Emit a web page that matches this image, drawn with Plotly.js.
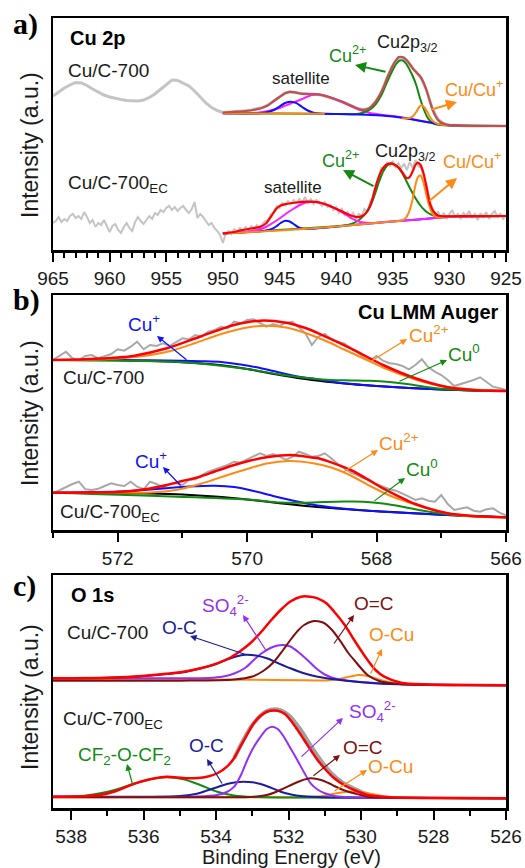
<!DOCTYPE html>
<html><head><meta charset="utf-8">
<script src="https://cdn.plot.ly/plotly-3.0.1.min.js"></script>
<style>html,body{margin:0;padding:0;background:#fff}#chart{width:525px;height:868px}</style>
</head><body><div id="chart"></div>
<script>
// ---------------- Panel a: Cu 2p (intensity in arbitrary units) ----------------
const a1_raw = [154,158,162,165,167.5,167,164.5,161,158,155,153,151.5,150.5,149.5,149.5,149,150,152.5,156,161,166,170,169.5,167,164,159,153,147,142.5,139.5,137.5,
137.8,138.3,138.6,139.2,140,141,142.6,145,149.2,153.2,157,158.2,157.3,156.3,156.2,155.8,155.3,154,152.3,150.3,148.3,146,143.2,141.2,140.2,142,148.2,158.3,172.5,184.5,192.5,192.3,185.5,178.5,172,159.5,141,130.5,126.5,125,124.6,124.4,124.1,124.3,124,124.2,123.9,124.1,123.8,124];
const a1_env_E = [950,949,948,947.3,946.5,946,945.5,945,944.5,944.1,943.6,943.1,942.5,941.8,941,940.3,939.5,938.8,938.2,937.7,937.3,936.9,936.5,936.1,935.8,935.5,935.1,934.8,934.45,934.1,933.8,933.5,933.2,932.9,932.6,932.3,932.0,931.7,931.4,931.1,930.8,930.3,929.7,928,925];
const a1_env_I = [137.5,138.2,139,140,142.3,144.8,149,153,156.8,158.2,157.6,156.3,156,155.8,154.2,151.8,148.5,145,141.8,140.2,140.6,143.5,148.5,156,163,172,182,188.5,193,192.7,190.2,186,181,177.5,174,168,159,148,138,131.5,128,125.5,124.5,124.2,124];
const a1_blue_E = [950,948,947,946.5,946,945.5,945,944.5,944,943.5,943,942.5,942,941,940,938,936,935,934,933,932,931,930,929,927,925];
const a1_blue_I = [136.7,136.6,136.6,137,138,140,143.5,147,148.3,146.8,143,139.5,137.3,136.3,136,135.5,134.5,133.5,132,130,128,126,124.8,124.2,124,124];
const a1_mag_E = [950,948,947,946,945,944,943,942.5,942,941.5,941,940.3,939.5,938.8,938,937.5,937,936,935,934,933,932,931,930,929,925];
const a1_mag_I = [136.7,136.8,137.3,139,142,146.5,151,153.5,155.2,155.5,154.3,151.7,148,144.5,140.5,138.5,137,135.2,134,132.3,130.2,128,126,124.8,124.2,124];
const a1_green_E = [950,945,940,938.5,938,937.5,937,936.5,936,935.5,935,934.7,934.4,934.1,933.8,933.5,933.2,932.9,932.6,932.3,932,931.7,931.4,931,930.5,930,929,925];
const a1_green_I = [136.7,136.5,136,135.8,136.3,137.8,140.5,146,155,168,180,186,189.5,189.5,186,180,173,164,152,142,134,129,126.5,125.2,124.7,124.5,124.2,124];
const a1_orange_E = [950,947,944,941,940.9,934.2,933.8,933.5,933.2,932.9,932.7,932.45,932.2,931.9,931.6,931.3,931,930.5,930,929,925];
const a1_orange_I = [136.7,136.6,136.5,136.2,null,131.8,131.5,132,134,138.5,142.5,145,142.5,137,131,127.5,126,125,124.8,124.2,124];

const a2_raw = [27,29,33,28,31,29,34,36,32,34,31,38,33,27,30,23,27,25,30,24,18,24,26,20,17,23,27,22,19,28,33,29,26,30,34,31,37,35,40,38,
42,44,40,43,39,42,44,40,37,41,48,32,36,33,29,25,27,22,19,15,7,17,19,16,21,18,22,19,23,20,24,21,25,22,26,29,30,36,37,44,
42,47,45,49,46,50,47,51,47,53,47,51,46,50,47,44,48,43,45,40,43,37,41,35,38,33,37,31,36,34,41,38,48,52,66,70,82,80,88,84,
89,83,87,82,86,80,88,82,90,84,82,72,64,50,43,34,38,32,37,31,36,40,33,36,31,37,34,39,32,36,30,37,33,38,31,36,39,33,36,31,35];
const a2_env_E = [950,949,948.5,947.5,946.7,946.2,945.9,945.6,945.3,944.9,944.4,943.5,942.6,941.4,940.3,939.6,939.1,938.5,938.1,937.6,937.2,936.9,936.6,936.3,936.0,935.6,935.2,934.8,934.4,934.0,933.75,933.5,933.25,933.0,932.8,932.55,932.3,932.0,931.7,931.4,931.0,930.5,929,925];
const a2_env_I = [16.7,18,19.5,21.5,23.3,26.5,31,36,41,44.5,46,47.5,48.3,47.3,42.7,39.3,36.5,33.8,32.8,34.5,39.5,47.5,59.5,71,79.5,85,86.7,85,81.5,75,71.8,73,78.5,85,87.3,85,77.5,62,46,38.5,34.5,33.7,33.9,34];
const a2_green_E = [950,947,944,941,939,938.6,938.2,937.8,937.4,937,936.6,936.2,935.8,935.4,935.0,934.6,934.2,933.8,933.4,933.0,932.6,932.2,931.8,931.4,931.0,930.5,930,927,925];
const a2_green_I = [16.5,18.5,20.8,23,25,26.3,28.5,31.8,36.5,43.5,55,68.5,79.5,85.3,86.3,83.5,77.5,69,60,52,45,40,36.5,34.5,33.5,33.3,33.5,33.8,34];
const a2_blue_E = [950,948,947,946.3,945.8,945.3,944.9,944.5,944.1,943.7,943.3,942.8,942,940,938,936,934,932,930,925];
const a2_blue_I = [16.5,17.8,18.5,19.3,20.5,23.5,27,29.3,28.5,25.5,22.5,21,21.3,23.3,25.5,27.6,29.5,31.2,33.2,34];
const a2_mag_E = [950,948.5,947.5,946.8,946.2,945.6,945,944.4,943.8,943.2,942.6,942,941.4,940.8,940.3,939.7,939.1,938.6,938.1,937.6,937,936,934,932,930,927,925];
const a2_mag_I = [16.5,17.7,19,20.5,23,27,31.5,36.5,41,45,47.8,48.3,47.3,45.3,42.7,39.2,35.2,31.5,28.8,27.4,27,27.7,29.5,31.2,33.2,33.8,34];
const a2_orange_E = [950,945,940,936,934.2,933.9,933.6,933.3,933.05,932.8,932.55,932.3,932.05,931.8,931.55,931.3,931.0,930.5,930,925];
const a2_orange_I = [16.5,19.5,23.5,27.6,29.5,31.5,37,48,62,72.5,74.5,68,56,45,37.5,34,32.7,33.2,33.5,34];

// ---------------- Panel b: Cu LMM Auger ----------------
const b1_raw = [170,174,178.3,171.7,170,174,175,171.7,174,176,180.7,179.3,183.3,188.3,180.7,185,184,186.7,184,188.3,
191.7,190.7,195,193.3,198.3,200,203.3,201.7,208.3,206.7,210,210.7,207.3,203.3,206,204,207.3,208.3,202.7,196.7,
185,193.3,196,190.7,188.3,186.7,181.7,178.3,172.7,170,174,169.3,166.7,166,164,160.7,165,170.7,162.7,158.3,
155,150,144,146,147.3,150,152.7,148.3,143.3,141.7,140];
const b1_black_E = [573,572,571.5,571,570.5,570,569.5,569,568.5,568,567.5,567,566.5,566];
const b1_black_I = [170,169.7,169,167.8,165.5,161,155,150,146.5,144,142,140.5,139.5,139];
const b1_blue_E = [573,572,571.5,571,570.7,570.4,570.1,569.8,569.5,569.2,568.9,568.5,568,567,566];
const b1_blue_I = [170,169.9,169.7,169.3,168.8,168,165.5,162,157.5,153.3,150.5,146.7,144,140.5,139];
const b1_orange_E = [573,572.5,572,571.6,571.2,570.8,570.4,570.0,569.7,569.4,569.1,568.8,568.5,568.2,567.9,567.6,567.3,567.0,566.6,566];
const b1_orange_I = [170,170.3,171.5,174,178.8,187,196,202.5,204.3,202.5,197,189.5,180.5,171.5,162.5,155,148.5,144,141,139];
const b1_green_E = [573,571,570,569.5,569,568.7,568.4,568.1,567.8,567.5,567.2,566.9,566.5,566];
const b1_green_I = [170,167.8,161,155.5,151.5,150,149.6,149.2,148,145.8,142.8,140.8,139.6,139];
const b1_env_E = [573,572.5,572,571.76,571.24,570.73,570.2,569.8,569.4,569.1,568.9,568.4,567.9,567.4,566.9,566.5,566];
const b1_env_I = [170,170.8,172.5,174,181.7,193.3,205,209.3,207.3,202,196.7,181.7,165,151.7,142.7,140,139];

const b2_raw = [36.7,40,42.7,46,48.3,40.7,40,41.3,44,46.7,45,44,48.3,43.3,40.7,48.3,46,42.7,46,46.7,
45,50,50.7,55,58.3,60.7,63.3,65,68.3,67.3,70.7,73.3,76.7,74,76,73.3,70,73.3,78.3,76,
73.3,74,76.7,71.7,66,61.7,57.3,55,51.7,50,46,43.3,40.7,39.3,36.7,33.3,30,31.7,29.3,28.3,
35,26,20,21.3,22.7,19.3,18.3,20.7,21.7,17.3,14.7];
const b2_black_E = [573,572,571.5,571,570.5,570,569.5,569,568.5,568,567.5,567,566.5,566];
const b2_black_I = [37.3,37,36.5,35.5,33.5,30.5,26.8,23.5,21,18.8,17,15.3,13.8,12.7];
const b2_blue_E = [573,572.5,572,571.7,571.3,570.9,570.5,570.2,569.9,569.6,569.3,569.0,568.6,568,567,566];
const b2_blue_I = [37.3,37.8,38.5,39.6,41.5,43.5,44.3,43,39,34,29.5,25.5,22,18.8,15.3,12.7];
const b2_orange_E = [573,572,571.5,571.1,570.7,570.3,570.0,569.7,569.35,569.0,568.7,568.4,568.1,567.8,567.5,567.2,566.9,566.5,566];
const b2_orange_I = [37.3,37.3,37.5,40,46.5,55,61,66.5,69,67,62.5,54.5,44,34.5,27.5,21.5,16.5,13.5,12.7];
const b2_green_E = [573,570,569.5,569.1,568.8,568.5,568.2,567.9,567.6,567.3,567.0,566.7,566.3,566];
const b2_green_I = [37.3,30.5,27.5,27.3,28,28.4,28.3,26.5,23.3,19.5,16.5,14.5,13.3,12.7];
const b2_env_E = [573,572,571.76,571.5,571.24,571.0,570.73,570.5,570.2,569.95,569.7,569.33,569.0,568.9,568.4,567.9,567.4,566.9,566.5,566];
const b2_env_I = [37.3,38,39.3,41.5,45,49,53.3,58.5,65,69.5,72.7,75,72.5,71.7,60,41.7,26,16.7,14,12.7];

// ---------------- Panel c: O 1s ----------------
const c1_env_E = [538.5,537,536.3,535.5,534.9,534.4,533.97,533.6,533.33,533.05,532.77,532.5,532.22,531.95,531.66,531.4,531.2,530.95,530.74,530.45,530.19,529.82,529.6,529.36,528.9,528.2,527,526];
const c1_env_I = [129.7,130.3,131.3,133.8,136.3,140,144.7,150.5,157,165,175.5,187,198,206.5,211.3,211.3,209.7,204.5,196.3,183,168,148,138,131.3,125.3,123.5,123,122.7];
const c1_oc_E = [538.5,537,536.3,535.8,535.36,534.9,534.44,534.0,533.7,533.45,533.2,532.9,532.6,532.3,531.95,531.6,531.2,530.7,530.2,529.5,528.5,526];
const c1_oc_I = [129.7,130.2,131.2,132.5,134,135.8,139.5,144,148.5,151.5,153.2,152.5,149.7,145,139.7,135,131.3,128.5,126.5,124.5,123.5,122.7];
const c1_so4_E = [538.5,535,534.2,533.8,533.5,533.2,532.96,532.75,532.5,532.3,532.15,531.95,531.75,531.48,531.25,531.0,530.74,530.4,530,529,526];
const c1_so4_I = [129.7,129.7,130,131.5,134.5,140,148,154.5,160,162.5,163,161.5,156.5,148,140,133.5,129.7,127.5,126,124,122.7];
const c1_oeqc_E = [538.5,535,533.5,533.0,532.7,532.4,532.15,531.95,531.75,531.57,531.3,531.05,530.8,530.56,530.35,530.19,529.82,529.5,529.1,528.5,526];
const c1_oeqc_I = [127.3,127.3,128.5,131.5,137,146.3,158,168,177,183,187,185.5,178,166.3,155,148,133,127,124.5,123.3,122.7];
const c1_ocu_E = [538.5,536,533,531.5,531,530.6,530.3,530.05,529.8,529.5,529.2,528.8,528,526];
const c1_ocu_I = [129,128.7,128.2,127.8,127.5,129,131.5,133,131.8,128.5,125.5,124,123.2,122.7];

const c2_raw_E = [533.5,533,532.6,532.3,532.0,531.7,531.4,531.1,530.8,530.5,530.2,529.9,529.5];
const c2_raw_I = [50,83,97,98.5,93,80,63,47,34,25,19.5,14.5,11.5];
const c2_env_E = [538.5,537.7,537.2,536.8,536.28,535.82,535.36,534.8,534.25,533.95,533.7,533.5,533.33,533.15,532.96,532.78,532.6,532.31,532.1,531.95,531.76,531.57,531.38,531.2,530.97,530.74,530.45,530.19,529.82,529.3,528.5,526];
const c2_env_I = [11.3,11.8,13,16.5,24,28.7,31.3,29.7,31.3,35,41.3,50,61.3,73,84.7,92,96.3,97.3,94,88,78.5,68,57.5,48,38,29.7,22.5,18,13,11,10.2,9.7];
const c2_cf2_E = [538.5,537.7,537.2,536.8,536.28,535.82,535.36,534.9,534.44,533.97,533.5,533,532,526];
const c2_cf2_I = [11.3,11.9,14.7,18,24,28.7,30.7,28.7,23,16.3,12.5,11,10.5,9.7];
const c2_oc_E = [538.5,536,535,534.5,534.25,533.95,533.7,533.45,533.24,533.0,532.77,532.5,532.22,531.9,531.66,531.2,530.5,526];
const c2_oc_I = [11.3,11.3,12,14.5,17.5,21,24,25.8,26.3,25.8,24,20.5,16.3,13.3,12,11,10.5,9.7];
const c2_so4_E = [538.5,534.5,533.97,533.7,533.5,533.3,533.14,532.96,532.77,532.6,532.45,532.3,532.13,531.95,531.76,531.57,531.39,531.2,531.0,530.74,530.4,529.8,526];
const c2_so4_I = [11.3,11.5,13,16,21.3,34,48,61,71.3,79,81.3,79,71.3,60,48,35.5,24.7,18.5,14.7,12,11,10.3,9.7];
const c2_oeqc_E = [538.5,534,533.05,532.6,532.35,532.13,531.9,531.66,531.39,531.1,530.9,530.74,530.45,530.19,529.82,529.3,526];
const c2_oeqc_I = [10.8,10.8,11,13,16,19.7,23.5,27.3,29.7,28,25,22,17.5,14.7,11.3,10.3,9.7];
const c2_ocu_E = [538.5,533,531.5,531.0,530.7,530.4,530.2,529.9,529.6,529.2,528.5,526];
const c2_ocu_I = [10.8,10.8,11,12.3,14.5,16.3,16.5,15.3,13,11,10.2,9.7];

const ticksA = [965,960,955,950,945,940,935,930,925];
const ticksB = [572,570,568,566];
const ticksC = [538,536,534,532,530,528,526];

// ---------------- colours ----------------
const GRAY='#c4c4c4', RED='#ff0000', BRRED='#c0504d', BLUE='#1010ff', MAG='#ff20ff', GREEN='#128a12', ORANGE='#ff8a12',
      NAVY='#1c1c9c', PURPLE='#9230f5', DRED='#800f0f', BLACK='#000000';

function ln(E, I, ax, color, width, shape){
  return {x:E, y:I, xaxis:'x'+ax, yaxis:'y'+ax, mode:'lines', hoverinfo:'skip',
          line:{color:color, width:width, shape:shape||'spline', smoothing:0.8}};
}
function raw(I, x0, dx, ax, color, width){
  return {y:I, x0:x0, dx:dx, xaxis:'x'+ax, yaxis:'y'+ax, mode:'lines', hoverinfo:'skip',
          line:{color:color, width:width, shape:'linear'}};
}

const traces = [
  // panel a top
  raw(a1_raw, 965, -0.5, '', GRAY, 3),
  ln(a1_mag_E, a1_mag_I, '', MAG, 2),
  ln(a1_green_E, a1_green_I, '', GREEN, 2),
  ln(a1_blue_E, a1_blue_I, '', BLUE, 2),
  ln(a1_orange_E, a1_orange_I, '', ORANGE, 2),
  ln(a1_env_E, a1_env_I, '', BRRED, 2.2),
  // panel a bottom
  raw(a2_raw, 965, -0.25, '', GRAY, 2),
  ln(a2_green_E, a2_green_I, '', GREEN, 2),
  ln(a2_blue_E, a2_blue_I, '', BLUE, 2),
  ln(a2_mag_E, a2_mag_I, '', MAG, 2),
  ln(a2_orange_E, a2_orange_I, '', ORANGE, 2),
  ln(a2_env_E, a2_env_I, '', RED, 2.2),
  // panel b top
  raw(b1_raw, 573, -0.1, '2', '#a8a8a8', 2),
  ln(b1_black_E, b1_black_I, '2', BLACK, 2),
  ln(b1_blue_E, b1_blue_I, '2', BLUE, 2),
  ln(b1_green_E, b1_green_I, '2', GREEN, 2),
  ln(b1_orange_E, b1_orange_I, '2', ORANGE, 2),
  ln(b1_env_E, b1_env_I, '2', RED, 2.5),
  // panel b bottom
  raw(b2_raw, 573, -0.1, '2', '#a8a8a8', 2),
  ln(b2_black_E, b2_black_I, '2', BLACK, 2),
  ln(b2_blue_E, b2_blue_I, '2', BLUE, 2),
  ln(b2_green_E, b2_green_I, '2', GREEN, 2),
  ln(b2_orange_E, b2_orange_I, '2', ORANGE, 2),
  ln(b2_env_E, b2_env_I, '2', RED, 2.5),
  // panel c top
  ln(c1_ocu_E, c1_ocu_I, '3', ORANGE, 2),
  ln(c1_so4_E, c1_so4_I, '3', PURPLE, 2),
  ln(c1_oc_E, c1_oc_I, '3', NAVY, 2),
  ln(c1_oeqc_E, c1_oeqc_I, '3', DRED, 2),
  ln(c1_env_E, c1_env_I, '3', RED, 2.5),
  // panel c bottom
  ln(c2_raw_E, c2_raw_I, '3', '#a0a0a0', 4),
  ln(c2_ocu_E, c2_ocu_I, '3', ORANGE, 2),
  ln(c2_cf2_E, c2_cf2_I, '3', GREEN, 2),
  ln(c2_oc_E, c2_oc_I, '3', NAVY, 2),
  ln(c2_so4_E, c2_so4_I, '3', PURPLE, 2),
  ln(c2_oeqc_E, c2_oeqc_I, '3', DRED, 2),
  ln(c2_env_E, c2_env_I, '3', RED, 2.5)
];

// ---------------- layout helpers (pixel -> paper) ----------------
const W=525, H=868, ML=53, MR=19, MT=18, MB=60, PW=W-ML-MR, PH=H-MT-MB;
const fx = p => (p-ML)/PW, fy = p => (H-MB-p)/PH;
const FONT = 'Liberation Sans, Arial, sans-serif';
function txt(t, px, py, size, color, xa, extra){
  return Object.assign({text:t, x:fx(px), y:fy(py), xref:'paper', yref:'paper', showarrow:false,
    xanchor:xa||'left', yanchor:'middle', borderpad:0, font:{family:FONT, size:size, color:color}}, extra||{});
}
function arw(tx, ty, hx, hy, color, w){
  return {text:'', x:fx(hx), y:fy(hy), xref:'paper', yref:'paper', showarrow:true,
    ax:tx-hx, ay:ty-hy, axref:'pixel', ayref:'pixel', arrowhead:2, arrowsize:1.1,
    arrowwidth:w||2, arrowcolor:color, standoff:0, startstandoff:0, font:{size:1}};
}
const K='#1a1a1a';
const SERIF = {family:'Liberation Serif, Times New Roman, serif', size:30, color:BLACK};
const ann = [
  // panel labels
  txt('<b>a)</b>', 12, 24, 30, BLACK, 'left', {font:SERIF}),
  txt('<b>b)</b>', 12, 300, 30, BLACK, 'left', {font:SERIF}),
  txt('<b>c)</b>', 12, 586, 30, BLACK, 'left', {font:SERIF}),
  // axis titles
  txt('Intensity (a.u.)', 30, 145, 23, K, 'center', {textangle:-90}),
  txt('Intensity (a.u.)', 30, 413, 23, K, 'center', {textangle:-90}),
  txt('Intensity (a.u.)', 30, 697, 23, K, 'center', {textangle:-90}),
  txt('Binding Energy (eV)', 291, 857, 20, K, 'center'),
  // panel a
  txt('<b>Cu 2p</b>', 69, 38, 20, BLACK),
  txt('Cu/C-700', 67, 70, 19, K),
  txt('Cu/C-700<sub>EC</sub>', 67, 184, 19, K),
  txt('satellite', 301, 79, 17, K, 'center'),
  txt('Cu2p<sub>3/2</sub>', 376, 44, 18, K),
  txt('Cu<sup>2+</sup>', 328, 54, 18, GREEN),
  txt('Cu/Cu<sup>+</sup>', 444, 88, 18, ORANGE),
  txt('satellite', 293, 187, 17, K, 'center'),
  txt('Cu2p<sub>3/2</sub>', 374, 152, 18, K),
  txt('Cu<sup>2+</sup>', 321, 160, 18, GREEN),
  txt('Cu/Cu<sup>+</sup>', 442, 161, 18, ORANGE),
  arw(387, 72, 355, 65, GREEN, 2),
  arw(430, 110, 457, 102, ORANGE, 2),
  arw(375, 187, 343, 170, GREEN, 2),
  arw(428, 202, 457, 178, ORANGE, 2),
  // panel b
  txt('<b>Cu LMM Auger</b>', 500, 312, 20, BLACK, 'right'),
  txt('Cu<sup>+</sup>', 127, 323, 19, BLUE),
  txt('Cu<sup>2+</sup>', 408, 334, 19, ORANGE),
  txt('Cu<sup>0</sup>', 447, 353, 19, GREEN),
  txt('Cu/C-700', 62, 377, 19, K),
  txt('Cu<sup>+</sup>', 134, 460, 19, BLUE),
  txt('Cu<sup>2+</sup>', 378, 442, 19, ORANGE),
  txt('Cu<sup>0</sup>', 405, 468, 19, GREEN),
  txt('Cu/C-700<sub>EC</sub>', 59, 513, 19, K),
  arw(188, 361, 157, 336, BLUE, 1.2),
  arw(370, 362, 407, 339, ORANGE, 1.2),
  arw(398, 382, 447, 360, GREEN, 1.2),
  arw(182, 487, 163, 467, BLUE, 1.2),
  arw(342, 473, 378, 450, ORANGE, 1.2),
  arw(373, 502, 405, 478, GREEN, 1.2),
  // panel c
  txt('<b>O 1s</b>', 70, 595, 20, BLACK),
  txt('Cu/C-700', 66, 632, 19, K),
  txt('O-C', 161, 627, 19, NAVY),
  txt('SO<sub>4</sub><sup>2-</sup>', 201, 605, 19, PURPLE),
  txt('O=C', 353, 603, 19, DRED),
  txt('O-Cu', 368, 634, 19, ORANGE),
  txt('Cu/C-700<sub>EC</sub>', 62, 720, 19, K),
  txt('CF<sub>2</sub>-O-CF<sub>2</sub>', 77, 756, 19, GREEN),
  txt('O-C', 188, 745, 19, NAVY),
  txt('SO<sub>4</sub><sup>2-</sup>', 348, 711, 19, PURPLE),
  txt('O=C', 342, 747, 19, DRED),
  txt('O-Cu', 367, 766, 19, ORANGE),
  arw(247, 655, 190, 636, NAVY, 1.2),
  arw(267, 652, 243, 615, PURPLE, 1.2),
  arw(333, 645, 354, 615, DRED, 1.2),
  arw(370, 675, 382, 649, ORANGE, 1.2),
  arw(133, 786, 127, 764, GREEN, 1.2),
  arw(223, 785, 207, 759, NAVY, 1.2),
  arw(300, 758, 343, 718, PURPLE, 1.2),
  arw(312, 777, 340, 755, DRED, 1.2),
  arw(333, 792, 367, 770, ORANGE, 1.2)
];

function xax(range, ticks, minor){
  return {range:range, tickmode:'array', tickvals:ticks, ticktext:ticks.map(String), ticks:'outside',
    ticklen:9, tickwidth:2, tickcolor:BLACK, ticklabelstandoff:1,
    minor:{tickmode:'linear', tick0:ticks[0], dtick:minor, ticks:'outside', ticklen:5, tickwidth:2, tickcolor:BLACK, showgrid:false},
    showline:true, mirror:true, linewidth:2.5, linecolor:BLACK, showgrid:false, zeroline:false,
    tickfont:{family:FONT, size:19, color:K}, fixedrange:true};
}
function yax(range, dom, anchor){
  return {range:range, domain:dom, anchor:anchor, showline:true, mirror:true, linewidth:2.5, linecolor:BLACK,
    showticklabels:false, ticks:'', showgrid:false, zeroline:false, fixedrange:true};
}
const xa = xax([965,925], ticksA, -2.5); xa.anchor='y';
const xb = xax([573,566], ticksB, -1); xb.anchor='y2';
const xc = xax([538.5,526], ticksC, -1); xc.anchor='y3';

const layout = {
  width:W, height:H, margin:{l:ML, r:MR, t:MT, b:MB}, showlegend:false,
  paper_bgcolor:'#ffffff', plot_bgcolor:'#ffffff',
  xaxis:xa, yaxis:yax([0,232], [fy(250), fy(18)], 'x'),
  xaxis2:xb, yaxis2:yax([0,235], [fy(530), fy(295)], 'x2'),
  xaxis3:xc, yaxis3:yax([0,233], [fy(808), fy(575)], 'x3'),
  annotations:ann
};
Plotly.newPlot('chart', traces, layout, {displayModeBar:false, staticPlot:true});
</script></body></html>
